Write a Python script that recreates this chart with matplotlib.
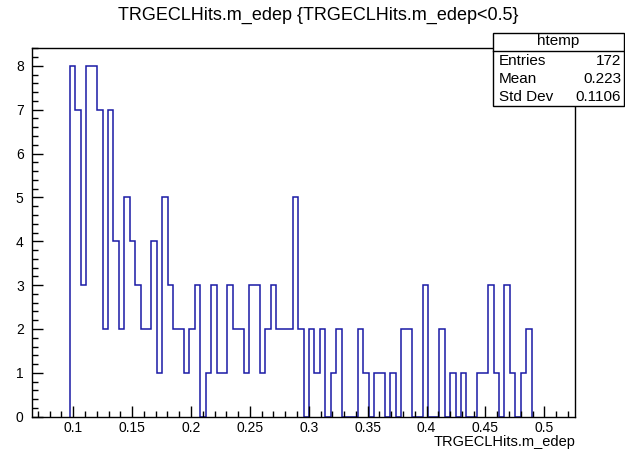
import numpy as np
import matplotlib.pyplot as plt
from matplotlib.patches import Rectangle
from matplotlib.lines import Line2D
from matplotlib.ticker import MultipleLocator

plt.rcParams['font.family'] = ['Liberation Sans', 'DejaVu Sans']

# htemp binning as made by TTree::Draw (100 bins)
NBINS = 100
XMIN, XMAX = 0.065, 0.526
FIRST_BIN = 7  # index of the first filled bin

# bin contents from FIRST_BIN onwards
counts = [8, 7, 3, 8, 8, 7, 2, 7, 4, 2, 5, 4, 3, 2, 2, 4, 1, 5, 3, 2, 2, 1,
          2, 3, 0, 1, 3, 1, 1, 3, 2, 2, 1, 3, 3, 1, 2, 3, 2, 2, 2, 5, 2, 0,
          2, 1, 2, 0, 1, 2,
          0, 0, 0, 2, 1, 0, 1, 1, 0, 1, 0, 2, 2, 0, 0, 3, 0, 0, 2, 0, 1, 0,
          1, 0, 0, 1, 1, 3, 1, 0, 3, 1, 0, 1, 2]

xticks = [0.1, 0.15, 0.2, 0.25, 0.3, 0.35, 0.4, 0.45, 0.5]
xtick_labels = ["0.1", "0.15", "0.2", "0.25", "0.3", "0.35", "0.4", "0.45", "0.5"]

title = "TRGECLHits.m_edep {TRGECLHits.m_edep<0.5}"
xlabel = "TRGECLHits.m_edep"

stats_name = "htemp"
stats_rows = [("Entries", "172"), ("Mean", "0.223"), ("Std Dev", "0.1106")]

W, H = 625, 449
fig = plt.figure(figsize=(W / 100, H / 100), dpi=100)
ax = fig.add_axes([32 / W, 1 - 416.7 / H, (575 - 32) / W, (416.7 - 48.3) / H])

edges = np.linspace(XMIN, XMAX, NBINS + 1)
hist_edges = edges[FIRST_BIN:FIRST_BIN + len(counts) + 1]
ax.stairs(counts, hist_edges, baseline=0, color="#1a1aa6", lw=1.1)

ax.set_xlim(XMIN, XMAX)
ax.set_ylim(0, max(counts) * 1.05)

ax.set_xticks(xticks)
ax.set_xticklabels(xtick_labels)
ax.xaxis.set_minor_locator(MultipleLocator(0.01))
ax.yaxis.set_major_locator(MultipleLocator(1))
ax.yaxis.set_minor_locator(MultipleLocator(0.2))
ax.tick_params(which="both", direction="in", top=False, right=False,
               labelsize=10, width=1, color="black")
ax.tick_params(which="major", length=8)
ax.tick_params(which="minor", length=4.5)
ax.tick_params(axis="x", pad=3)
ax.tick_params(axis="y", pad=6)
for s in ax.spines.values():
    s.set_linewidth(1)

fig.text(318 / W, 1 - 15 / H, title, ha="center", va="center", fontsize=13)
fig.text(575 / W, 1 - 442 / H, xlabel, ha="right", va="center", fontsize=10.5)

# statistics box
bx0, bx1 = 493 / W, 624 / W
by_top, by_bot = 1 - 33 / H, 1 - 106 / H
fig.patches.append(Rectangle((bx0, by_bot), bx1 - bx0, by_top - by_bot,
                             transform=fig.transFigure, facecolor="white",
                             edgecolor="black", lw=1, zorder=5))
fig.lines.append(Line2D([bx0, bx1], [1 - 50.5 / H] * 2, transform=fig.transFigure,
                        color="black", lw=1, zorder=6))
fig.text((bx0 + bx1) / 2, 1 - 41.5 / H, stats_name, ha="center", va="center",
         fontsize=11, zorder=7)
for i, (name, val) in enumerate(stats_rows):
    y = 1 - (61 + i * 18) / H
    fig.text(499 / W, y, name, ha="left", va="center", fontsize=11, zorder=7)
    fig.text(621 / W, y, val, ha="right", va="center", fontsize=11, zorder=7)

fig.savefig("out.png", dpi=100)
